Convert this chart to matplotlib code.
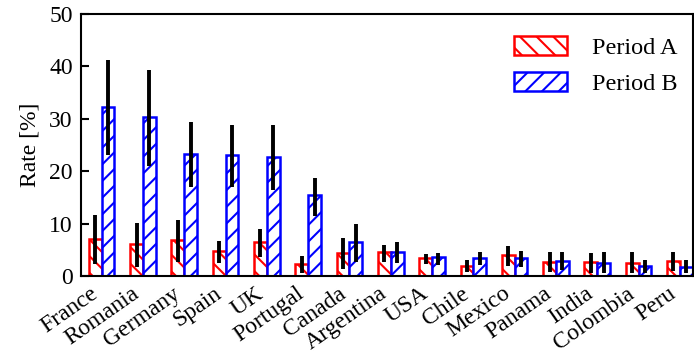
import numpy as np
import matplotlib
matplotlib.use("Agg")
import matplotlib.pyplot as plt

countries = ["France", "Romania", "Germany", "Spain", "UK", "Portugal", "Canada",
             "Argentina", "USA", "Chile", "Mexico", "Panama", "India", "Colombia", "Peru"]

rate_a = [7.0, 6.1, 6.9, 4.7, 6.4, 2.2, 4.4, 4.5, 3.4, 2.0, 4.0, 2.7, 2.7, 2.5, 2.9]
low_a = [2.3, 1.7, 2.7, 2.5, 3.6, 0.5, 1.3, 2.7, 2.3, 0.8, 1.9, 0.8, 0.6, 0.5, 1.0]
high_a = [11.6, 10.1, 10.6, 6.6, 8.9, 3.8, 7.3, 6.0, 4.2, 3.1, 5.8, 4.5, 4.3, 4.5, 4.5]

rate_b = [32.2, 30.3, 23.3, 23.0, 22.7, 15.4, 6.4, 4.5, 3.6, 3.4, 3.4, 2.9, 2.5, 2.0, 1.8]
low_b = [23.0, 21.0, 17.0, 17.0, 16.5, 11.5, 2.7, 2.4, 2.1, 2.1, 1.7, 1.1, 0.5, 0.5, 0.5]
high_b = [41.2, 39.4, 29.3, 28.9, 28.9, 18.7, 9.9, 6.4, 4.4, 4.5, 4.7, 4.5, 4.5, 3.1, 3.1]

plt.rcParams['font.family'] = ['Liberation Serif', 'DejaVu Serif']
plt.rcParams['font.size'] = 17
plt.rcParams['hatch.linewidth'] = 1.5

x = np.arange(len(countries))
w = 0.31

fig = plt.figure(figsize=(6.94, 3.61), dpi=100)
ax = fig.add_axes([0.1167, 0.2355, 0.8819, 0.7257])

ra = np.array(rate_a)
rb = np.array(rate_b)
err_a = [ra - np.array(low_a), np.array(high_a) - ra]
err_b = [rb - np.array(low_b), np.array(high_b) - rb]

ax.bar(x - w / 2, ra, w, facecolor='white', edgecolor='#ff0000', linewidth=1.8,
       hatch='\\\\', label='Period A')
ax.bar(x + w / 2, rb, w, facecolor='white', edgecolor='#0000ff', linewidth=1.8,
       hatch='//', label='Period B')
ax.errorbar(x - w / 2, ra, yerr=err_a, fmt='none', ecolor='black', elinewidth=2.8, capsize=0)
ax.errorbar(x + w / 2, rb, yerr=err_b, fmt='none', ecolor='black', elinewidth=2.8, capsize=0)

ax.set_xlim(-0.5, 14.32)
ax.set_ylim(0, 50)
ax.set_yticks([0, 10, 20, 30, 40, 50])
ax.set_xticks(x)
ax.set_xticklabels(countries, rotation=35, ha='right')
ax.tick_params(axis='x', length=0, pad=5)
ax.tick_params(axis='y', direction='in', length=6, width=1.5, pad=6)
ax.set_ylabel('Rate [%]', labelpad=6)
for s in ax.spines.values():
    s.set_linewidth(1.5)

leg = ax.legend(loc='upper right', bbox_to_anchor=(0.998, 0.972), frameon=False,
                prop={'size': 17.5}, handlelength=2.2, handleheight=0.8,
                handletextpad=1.0, labelspacing=0.55, borderaxespad=0.2)

fig.savefig("out.png", dpi=100)
